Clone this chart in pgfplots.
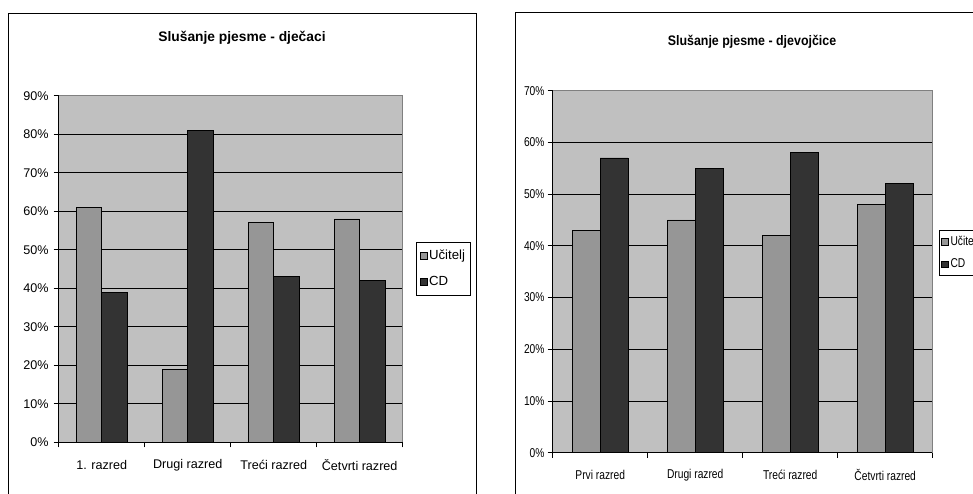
\documentclass[border=0pt]{standalone}
\usepackage{pgfplots}
\pgfplotsset{compat=1.18}
\usepackage{fontspec}
\setmainfont{Liberation Sans}
\newfontfamily\narrowfont[FakeStretch=0.8]{Liberation Sans}
\newfontfamily\narrowtitle[FakeStretch=0.9]{Liberation Sans}
\definecolor{plotbg}{RGB}{192,192,192}
\definecolor{teach}{RGB}{150,150,150}
\definecolor{cdcol}{RGB}{51,51,51}
\definecolor{framegray}{RGB}{128,128,128}

\pgfplotsset{
  mybars/.style={
    scale only axis, ybar=0pt, ymin=0, xmin=-0.5, xmax=3.5,
    axis background/.style={fill=plotbg},
    axis x line*=bottom, axis y line*=left,
    axis line style={black, line width=0.9bp},
    ymajorgrids, grid style={black, line width=0.8bp},
    ytick distance=10,
    /pgf/number format/assume math mode=true,
    yticklabel={\pgfmathprintnumber{\tick}\%},
    tick align=outside, major tick length=5bp,
    tick style={black, line width=0.8bp},
    xtick={-0.5,0.5,1.5,2.5,3.5}, xticklabels={},
    extra x ticks={0,1,2,3},
    extra x tick style={major tick length=0pt, grid=none},
    legend cell align=left,
    after end axis/.code={
      \draw[framegray, line width=1bp] (rel axis cs:0,1) -- (rel axis cs:1,1) -- (rel axis cs:1,0);
    },
  },
  sqleg/.style={legend image code/.code={\draw[##1, draw=black, line width=0.5bp] (1bp,-3.3bp) rectangle (7.6bp,3.3bp);}},
}

\begin{document}
\begin{tikzpicture}[x=1bp,y=1bp]
\useasboundingbox (0,0) rectangle (973,-494);
\clip (0,0) rectangle (973,-494);
\fill[white] (0,0) rectangle (973,-494);
\draw[line width=1bp] (8,-500) -- (8,-14) -- (476,-14) -- (476,-500);
\draw[line width=1bp] (515,-500) -- (515,-13) -- (990,-13);

\node[font=\bfseries\fontsize{13.8bp}{16bp}\selectfont] at (242,-38) {Slušanje pjesme - dječaci};
\node[font=\narrowtitle\bfseries\fontsize{13.8bp}{16bp}\selectfont] at (752,-42) {Slušanje pjesme - djevojčice};

\begin{axis}[mybars,
  at={(58.7bp,-442.3bp)}, anchor=south west,
  width=344bp, height=346.6bp, ymax=90,
  bar width=25.3bp,
  ticklabel style={font=\fontsize{12.6bp}{15bp}\selectfont},
  yticklabel style={anchor=east, inner sep=0pt, xshift=-5bp},
  extra x tick labels={1. razred, Drugi razred, Treći razred, Četvrti razred},
  extra x tick style={major tick length=0pt, grid=none, tick label style={anchor=center, yshift=-23bp}},
  legend style={at={(1.0387,0.5014)}, anchor=west, draw=black, line width=0.8bp, fill=white,
    font=\fontsize{13.2bp}{15bp}\selectfont, row sep=11bp, inner xsep=3.5bp, inner ysep=6bp,
    nodes={inner sep=2bp}},
]
\addplot[fill=teach, draw=black, line width=0.8bp, bar shift=-12.65bp, sqleg] coordinates {(0,61) (1,19) (2,57) (3,58)};
\addplot[fill=cdcol, draw=black, line width=0.8bp, bar shift=12.65bp, sqleg] coordinates {(0,39) (1,81) (2,43) (3,42)};
\legend{Učitelj, CD}
\end{axis}

\begin{axis}[mybars,
  at={(552.7bp,-452.7bp)}, anchor=south west,
  width=380bp, height=362bp, ymax=70,
  bar width=27.7bp,
  ticklabel style={font=\narrowfont\fontsize{12.8bp}{15bp}\selectfont},
  yticklabel style={anchor=east, inner sep=0pt, xshift=-3bp},
  extra x tick labels={Prvi razred, Drugi razred, Treći razred, Četvrti razred},
  extra x tick style={major tick length=0pt, grid=none, tick label style={anchor=center, yshift=-22bp}},
  legend style={at={(1.0166,0.5525)}, anchor=west, draw=black, line width=0.8bp, fill=white,
    font=\narrowfont\fontsize{12.8bp}{15bp}\selectfont, row sep=8bp, inner xsep=2bp, inner ysep=4bp,
    nodes={inner sep=2bp}},
]
\addplot[fill=teach, draw=black, line width=0.8bp, bar shift=-13.85bp, sqleg] coordinates {(0,43) (1,45) (2,42) (3,48)};
\addplot[fill=cdcol, draw=black, line width=0.8bp, bar shift=13.85bp, sqleg] coordinates {(0,57) (1,55) (2,58) (3,52)};
\legend{Učitelj, CD}
\end{axis}
\end{tikzpicture}
\end{document}
